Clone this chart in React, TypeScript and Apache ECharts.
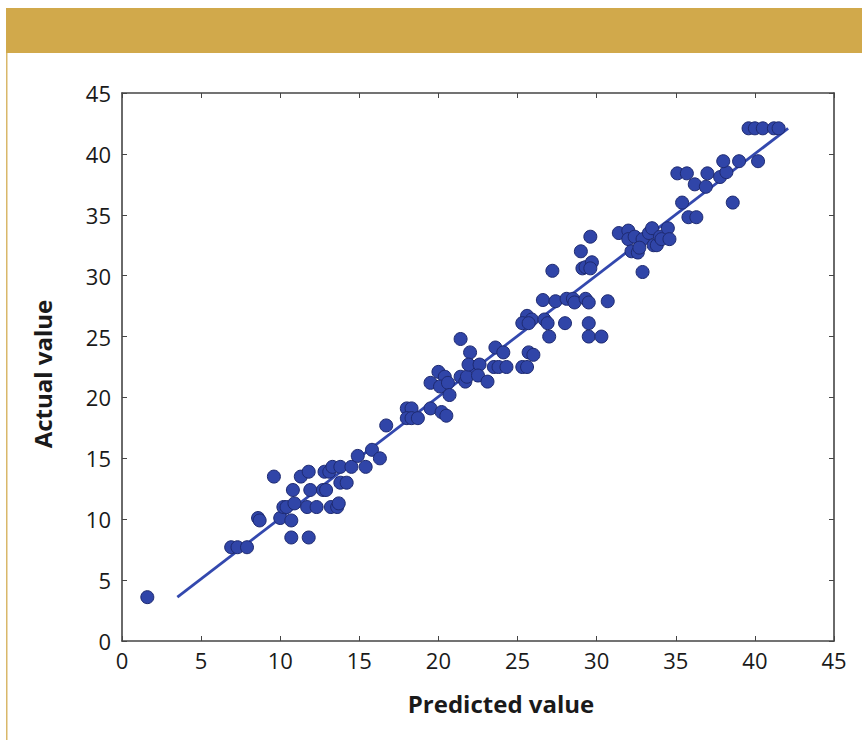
import React, { useEffect, useRef } from "react";
import * as echarts from "echarts";

const predicted: number[] = [
  1.6, 6.9, 7.3, 7.9, 8.6, 8.7, 9.6, 10.0, 10.2, 10.4, 10.9, 10.7, 10.7, 11.8, 10.8, 11.3, 11.8, 11.7, 11.9, 12.3,
  12.7, 12.9, 12.8, 13.1, 13.3, 13.8, 13.2, 13.6, 13.7, 13.8, 14.2, 14.5, 14.9, 15.4, 15.8, 16.3, 16.7, 18.0, 18.3, 18.0,
  18.3, 18.7, 19.5, 20.2, 20.5, 19.5, 20.0, 20.4, 20.1, 20.6, 20.7, 21.4, 22.0, 21.4, 21.7, 21.8, 21.9, 22.6, 22.5, 23.1,
  23.6, 24.1, 23.5, 23.8, 24.3, 25.3, 25.6, 25.7, 26.0, 25.6, 25.9, 25.3, 25.7, 26.7, 26.9, 27.0, 26.6, 27.4, 27.2, 28.0,
  28.1, 28.5, 28.6, 29.3, 29.5, 29.5, 29.5, 30.3, 30.7, 29.0, 29.1, 29.3, 29.7, 29.6, 29.6, 31.4, 32.0, 32.0, 32.4, 32.9,
  32.2, 32.6, 32.7, 32.9, 33.3, 33.5, 33.6, 33.8, 34.0, 34.1, 34.5, 34.6, 35.1, 35.7, 35.4, 35.8, 36.3, 36.2, 36.9, 37.0,
  37.8, 38.2, 38.0, 38.6, 39.0, 40.2, 39.6, 40.0, 40.5, 41.2, 41.5,
];

const actual: number[] = [
  3.6, 7.7, 7.7, 7.7, 10.1, 9.9, 13.5, 10.1, 11.0, 11.0, 11.3, 9.9, 8.5, 8.5, 12.4, 13.5, 13.9, 11.0, 12.4, 11.0,
  12.4, 12.4, 13.9, 13.9, 14.3, 14.3, 11.0, 11.0, 11.3, 13.0, 13.0, 14.3, 15.2, 14.3, 15.7, 15.0, 17.7, 19.1, 19.1, 18.3,
  18.3, 18.3, 19.1, 18.8, 18.5, 21.2, 22.1, 21.7, 20.9, 21.2, 20.2, 24.8, 23.7, 21.7, 21.3, 21.7, 22.7, 22.7, 21.8, 21.3,
  24.1, 23.7, 22.5, 22.5, 22.5, 22.5, 22.5, 23.7, 23.5, 26.7, 26.4, 26.1, 26.1, 26.4, 26.1, 25.0, 28.0, 27.9, 30.4, 26.1,
  28.1, 28.1, 27.8, 28.1, 27.8, 26.1, 25.0, 25.0, 27.9, 32.0, 30.6, 30.7, 31.1, 30.6, 33.2, 33.5, 33.7, 33.0, 33.2, 33.0,
  32.0, 31.9, 32.3, 30.3, 33.5, 33.9, 32.5, 32.5, 33.2, 33.0, 33.9, 33.0, 38.4, 38.4, 36.0, 34.8, 34.8, 37.5, 37.3, 38.4,
  38.1, 38.5, 39.4, 36.0, 39.4, 39.4, 42.1, 42.1, 42.1, 42.1, 42.1,
];

const fitLineX: number[] = [3.5, 42.1];
const fitLineY: number[] = [3.6, 42.1];

const xTicks: number[] = [0, 5, 10, 15, 20, 25, 30, 35, 40, 45];
const yTicks: number[] = [0, 5, 10, 15, 20, 25, 30, 35, 40, 45];

const xTitle = "Predicted value";
const yTitle = "Actual value";

export default function App() {
  const ref = useRef<HTMLDivElement>(null);

  useEffect(() => {
    if (!ref.current) return;
    const chart = echarts.init(ref.current, undefined, { renderer: "svg" });
    const font = "'Open Sans', 'Noto Sans', sans-serif";
    const axisColor = "#454545";
    const baseAxis = {
      type: "value" as const,
      min: xTicks[0],
      max: xTicks[xTicks.length - 1],
      interval: 5,
      splitLine: { show: false },
      axisLine: { show: true, onZero: false, lineStyle: { color: axisColor, width: 1.6 } },
      axisTick: { show: true, inside: true, length: 5, lineStyle: { color: axisColor, width: 1 } },
    };
    chart.setOption({
      animation: false,
      backgroundColor: "#ffffff",
      grid: { left: 122, top: 93, right: 28, bottom: 99, show: false },
      graphic: [
        { type: "rect", shape: { x: 6, y: 8, width: 856, height: 45 }, style: { fill: "#D1A94B" } },
        { type: "rect", shape: { x: 6, y: 53, width: 1.5, height: 687 }, style: { fill: "#D9B86A" } },
        {
          type: "text",
          x: 501,
          y: 703,
          style: {
            text: xTitle,
            font: `bold 24px ${font}`,
            fill: "#1a1a1a",
            align: "center",
            verticalAlign: "middle",
          },
        },
        {
          type: "text",
          x: 42,
          y: 374,
          rotation: Math.PI / 2,
          style: {
            text: yTitle,
            font: `bold 24px ${font}`,
            fill: "#1a1a1a",
            align: "center",
            verticalAlign: "middle",
          },
        },
      ],
      xAxis: [
        {
          ...baseAxis,
          position: "bottom",
          axisLabel: {
            show: true,
            margin: 8,
            fontSize: 22,
            fontFamily: font,
            color: "#1a1a1a",
            formatter: (v: number) => (xTicks.includes(v) ? String(v) : ""),
          },
        },
        {
          ...baseAxis,
          position: "top",
          axisLabel: { show: false },
        },
      ],
      yAxis: [
        {
          ...baseAxis,
          min: yTicks[0],
          max: yTicks[yTicks.length - 1],
          position: "left",
          axisLabel: {
            show: true,
            margin: 11,
            fontSize: 22,
            fontFamily: font,
            color: "#1a1a1a",
            formatter: (v: number) => (yTicks.includes(v) ? String(v) : ""),
          },
        },
        {
          ...baseAxis,
          min: yTicks[0],
          max: yTicks[yTicks.length - 1],
          position: "right",
          axisLabel: { show: false },
        },
      ],
      series: [
        {
          type: "line",
          data: fitLineX.map((x, i) => [x, fitLineY[i]]),
          showSymbol: false,
          symbol: "none",
          lineStyle: { color: "#3348AE", width: 2.8 },
          z: 1,
        },
        {
          type: "scatter",
          data: predicted.map((x, i) => [x, actual[i]]),
          symbolSize: 13,
          itemStyle: { color: "#3045A8", borderColor: "#1E2A70", borderWidth: 1, opacity: 1 },
          z: 2,
        },
      ],
    });
    return () => chart.dispose();
  }, []);

  return (
    <div
      ref={ref}
      style={{ position: "absolute", left: 0, top: 0, width: 862, height: 740 }}
    />
  );
}
